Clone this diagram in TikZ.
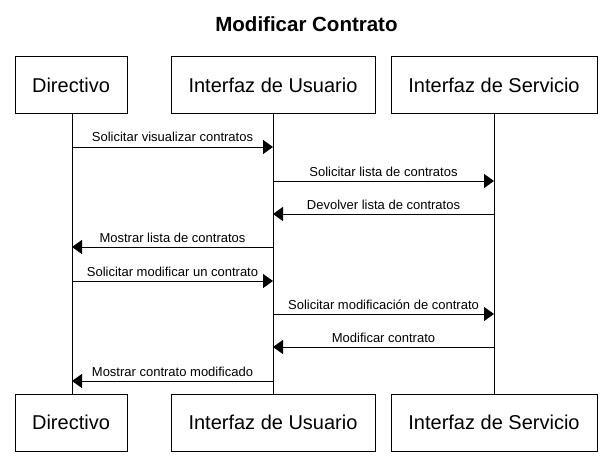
\documentclass[tikz,border=0pt]{standalone}
\usepackage{fontspec}
\setmainfont{Liberation Sans}
\usetikzlibrary{arrows.meta}
\begin{document}
\begin{tikzpicture}[x=1pt,y=-1pt,
  actor/.style={draw=black,line width=1pt,minimum height=57pt,inner sep=0pt,font=\fontsize{20}{24}\selectfont},
  life/.style={draw=black,line width=1pt},
  msg/.style={draw=black,line width=1pt,-{Triangle[length=10pt,width=14pt]}},
  lbl/.style={font=\fontsize{13}{15}\selectfont,anchor=base,inner sep=0pt}]
\useasboundingbox[fill=white] (0,0) rectangle (611,460);
\node[font=\bfseries\fontsize{20.5}{24}\selectfont,anchor=base] (title) at (306.5,31.5) {Modificar Contrato};
% top actors
\node[actor,minimum width=112pt] (d1) at (71,85.5) {Directivo};
\node[actor,minimum width=204pt] (u1) at (273,85.5) {Interfaz de Usuario};
\node[actor,minimum width=206pt] (s1) at (494,85.5) {Interfaz de Servicio};
% bottom actors
\node[actor,minimum width=112pt] (d2) at (71,422.5) {Directivo};
\node[actor,minimum width=204pt] (u2) at (273,422.5) {Interfaz de Usuario};
\node[actor,minimum width=206pt] (s2) at (494,422.5) {Interfaz de Servicio};
% lifelines
\coordinate (dt) at (72,114); \coordinate (db) at (72,394);
\coordinate (ut) at (273,114); \coordinate (ub) at (273,394);
\coordinate (st) at (494,114); \coordinate (sb) at (494,394);
\draw[life] (dt) -- (db);
\draw[life] (ut) -- (ub);
\draw[life] (st) -- (sb);
% message points
\foreach \n/\y in {1/147,2/181,3/214,4/247,5/281,6/314,7/347,8/381}{
  \coordinate (D\n) at (72,\y);
  \coordinate (U\n) at (273,\y);
  \coordinate (S\n) at (494,\y);
}
\draw[msg] (D1) -- (U1) node[lbl,midway,yshift=5pt] (m1) {Solicitar visualizar contratos};
\draw[msg] (U2) -- (S2) node[lbl,midway,yshift=5pt] (m2) {Solicitar lista de contratos};
\draw[msg] (S3) -- (U3) node[lbl,midway,yshift=5pt] (m3) {Devolver lista de contratos};
\draw[msg] (U4) -- (D4) node[lbl,midway,yshift=5pt] (m4) {Mostrar lista de contratos};
\draw[msg] (D5) -- (U5) node[lbl,midway,yshift=5pt] (m5) {Solicitar modificar un contrato};
\draw[msg] (U6) -- (S6) node[lbl,midway,yshift=5pt] (m6) {Solicitar modificación de contrato};
\draw[msg] (S7) -- (U7) node[lbl,midway,yshift=5pt] (m7) {Modificar contrato};
\draw[msg] (U8) -- (D8) node[lbl,midway,yshift=5pt] (m8) {Mostrar contrato modificado};
\end{tikzpicture}
\end{document}
